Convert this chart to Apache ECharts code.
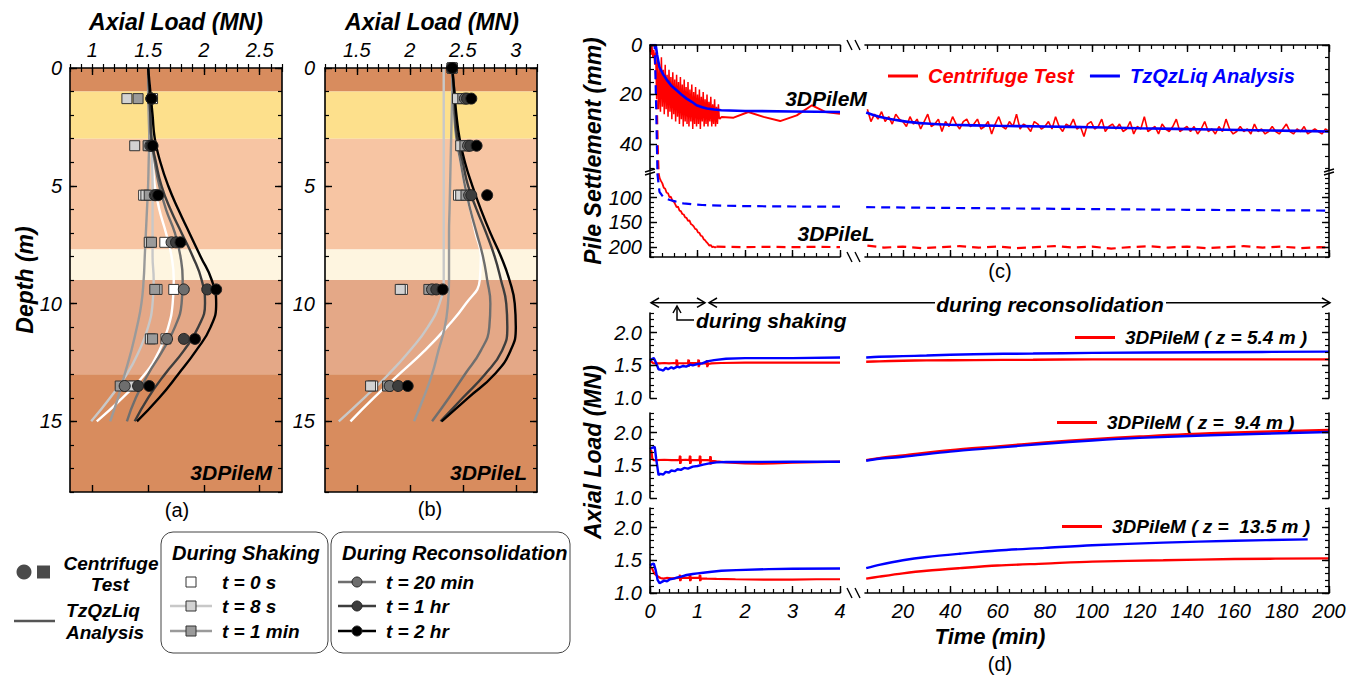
<!DOCTYPE html>
<html><head><meta charset="utf-8">
<script src="https://cdn.jsdelivr.net/npm/echarts@6/dist/echarts.min.js"></script>
<style>html,body{margin:0;padding:0;background:#fff}#c{width:1359px;height:683px}</style>
</head><body><div id="c"></div>
<script>
// ================= DATA =================
// soil layers (depth, m)
const soilTop = [0, 1, 3, 7.7, 9, 13];
const soilBottom = [1, 3, 7.7, 9, 13, 18];
// analysis curves depth grid
const curveDepth = [0, 1, 2, 3, 4, 5, 6, 7, 8, 9, 10, 11, 12, 13, 14, 15];
// panel (a) 3DPileM analysis curves (axial load, MN)
const aCurve_t0  = [1.50,1.51,1.51,1.52,1.54,1.56,1.60,1.66,1.71,1.73,1.72,1.68,1.60,1.47,1.27,1.04];
const aCurve_t8  = [1.50,1.51,1.52,1.53,1.535,1.54,1.54,1.54,1.54,1.55,1.54,1.50,1.42,1.31,1.16,0.99];
const aCurve_t1m = [1.50,1.50,1.505,1.51,1.505,1.50,1.49,1.48,1.47,1.46,1.44,1.40,1.35,1.29,1.23,1.16];
const aCurve_t20 = [1.50,1.51,1.52,1.53,1.56,1.60,1.66,1.74,1.79,1.81,1.80,1.74,1.63,1.50,1.39,1.31];
const aCurve_t1h = [1.50,1.51,1.52,1.53,1.57,1.62,1.70,1.80,1.90,1.98,2.01,1.95,1.82,1.65,1.50,1.38];
const aCurve_t2h = [1.50,1.52,1.54,1.56,1.61,1.68,1.77,1.87,1.97,2.07,2.11,2.06,1.93,1.77,1.60,1.40];
// panel (a) centrifuge points
const aMarkDepth = [1.3, 3.3, 5.4, 7.4, 9.4, 11.5, 13.5];
const aMark_t0  = [1.54,1.52,1.46,1.65,1.73,1.66,1.37];
const aMark_t8  = [1.31,1.38,1.48,1.51,1.58,1.52,1.34];
const aMark_t1m = [1.41,1.50,1.51,1.53,1.56,1.54,1.25];
const aMark_t20 = [1.53,1.52,1.56,1.71,1.82,1.67,1.29];
const aMark_t1h = [1.53,1.53,1.57,1.75,2.03,1.82,1.41];
const aMark_t2h = [1.53,1.54,1.59,1.79,2.11,1.92,1.51];
// panel (b) 3DPileL analysis curves
const bCurve_t0  = [2.40,2.41,2.42,2.44,2.48,2.52,2.57,2.62,2.67,2.66,2.53,2.35,2.14,1.90,1.66,1.44];
const bCurve_t8  = [2.32,2.32,2.32,2.32,2.32,2.32,2.32,2.32,2.32,2.32,2.28,2.17,2.00,1.80,1.57,1.33];
const bCurve_t1m = [2.40,2.40,2.395,2.39,2.385,2.38,2.375,2.37,2.37,2.37,2.36,2.33,2.27,2.21,2.13,2.04];
const bCurve_t20 = [2.40,2.41,2.42,2.44,2.48,2.52,2.57,2.63,2.69,2.73,2.76,2.75,2.67,2.52,2.37,2.21];
const bCurve_t1h = [2.40,2.42,2.43,2.45,2.50,2.55,2.63,2.72,2.80,2.86,2.91,2.92,2.87,2.71,2.50,2.29];
const bCurve_t2h = [2.40,2.42,2.44,2.47,2.52,2.59,2.67,2.76,2.86,2.94,2.99,3.00,2.95,2.80,2.55,2.30];
// panel (b) centrifuge points
const bMarkDepth = [0, 1.3, 3.3, 5.4, 9.4, 13.5];
const bMark_t0  = [2.40,2.47,2.49,2.46,1.93,1.65];
const bMark_t8  = [2.40,2.45,2.48,2.48,1.91,1.63];
const bMark_t1m = [2.40,2.50,2.52,2.53,2.18,1.79];
const bMark_t20 = [2.40,2.52,2.55,2.56,2.21,1.81];
const bMark_t1h = [2.40,2.54,2.57,2.58,2.25,1.89];
const bMark_t2h = [2.40,2.58,2.63,2.73,2.31,1.98];

// panel (c) settlement (mm) vs time (min)
const pileMRedShakeStart = 0, pileMRedShakeStep = 0.02;
const pileMRedShake = [1,4,0,5,2,8,3,22,6,26, 9,27,5,25,10,28,8,26,12,29, 10,27,13,30,11,28,14,31,12,29,
  15,32,13,30,16,33,14,31,17,32, 15,33,18,31,16,34,19,32,17,33, 20,32,18,34,21,31,19,33,22,32,
  20,33,23,31,21,33,24,32,22,33, 25,32,24,30];
const pileMRedPostT = [1.46,1.51,1.76,2.07,2.39,2.74,3.09,3.41,3.69,4.0];
const pileMRedPostV = [30,29.1,29.4,27.1,29.1,30.8,28.5,24.4,27.1,27.8];
const pileMBlueT = [0,0.12,0.15,0.2,0.28,0.35,0.45,0.56,0.66,0.77,0.88,0.98,1.1,1.2,1.35,1.5,2,3,4];
const pileMBlueV = [0,0,4,9,12,14,16.5,18.3,20,21.7,23,24.4,25.2,25.7,26.1,26.4,26.7,26.9,27.1];
const pileMRedRightStart = 5, pileMRedRightStep = 1.5;
const pileMRedRight = [26,31,28,30,27,31,29,32,28,30,31,
  33,29,32,30,34,31,28,33,32,30,35,31,33,29,32,34,31,30,33,32,
  30,34,33,31,36,32,29,33,34,31,33,28,34,32,33,35,31,32,34,33,
  31,34,29,33,35,32,33,30,34,33,37,32,31,34,33,30,35,33,32,34,
  32,35,34,31,36,33,34,29,35,34,33,36,32,34,35,33,30,35,34,33,
  35,33,36,34,31,35,34,36,33,35,30,34,36,35,33,35,34,36,32,35,
  34,36,35,33,35,36,34,32,35,36,34,35,33,36,35,34,35,36,34,35];
const pileMBlueRightT = [4.5,10,20,30,40,60,80,100,120,150,175,200];
const pileMBlueRightV = [27.3,29.0,30.8,31.8,32.3,32.7,33.0,33.3,33.7,34.2,34.6,35.0];
const pileLRedDropT = [0,0.1,0.14,0.17,0.2];
const pileLRedDropV = [0,0,20,45,60];
const pileLRedShakeStart = 0.2, pileLRedShakeStep = 0.03;
const pileLRedShake = [60,66,71,80,82,90,91,99,98,106,108,113,119,118,126,127,133,134,140,141,
  147,146,153,155,158,163,164,170,171,177,178,184,186,190,193,197,196,200,199,201,199];
const pileLRedPostT = [1.4,2,2.5,3,3.5,4];
const pileLRedPostV = [199,200,199.5,200,199.5,200];
const pileLRedRightT = [5,12,20,28,36,44,52,60,68,76,84,92,100,108,116,124,132,140,148,156,164,172,180,188,196,200];
const pileLRedRightV = [197,201,199,202,200,198,201,199,202,200,198,201,199,203,200,198,201,199,202,200,198,201,199,202,200,201];
const pileLBlueT = [0,0.1,0.13,0.16,0.2,0.25,0.3,0.42,0.55,0.7,0.9,1.1,1.5,2,3,4];
const pileLBlueV = [0,0,25,55,88,95,100,104.7,108,111.4,113.5,114.8,116,117,117.8,118.2];
const pileLBlueRightT = [4.5,30,60,100,140,170,200];
const pileLBlueRightV = [119.2,120.3,121.5,123,124.5,125.3,126];

// panel (d) axial load (MN) vs time (min)
const d1RedT = [0,0.03,0.06,0.1,0.2,0.3,0.4,0.5,0.55,0.56,0.565,0.57,0.575,0.585,0.7,0.8,0.81,0.815,0.82,0.825,0.835,0.95,1.01,1.02,1.025,1.03,1.035,1.045,1.15,1.19,1.2,1.205,1.21,1.215,1.225,1.3,1.5,2,2.5,3,3.5,4];
const d1RedV = [1.555,1.56,1.535,1.53,1.53,1.535,1.53,1.535,1.53,1.59,1.48,1.58,1.49,1.535,1.53,1.535,1.59,1.48,1.58,1.49,1.535,1.535,1.53,1.59,1.47,1.58,1.49,1.53,1.53,1.525,1.58,1.47,1.57,1.49,1.52,1.53,1.535,1.54,1.54,1.54,1.54,1.54];
const d1BlueT = [0,0.05,0.08,0.12,0.18,0.24,0.28,0.33,0.38,0.45,0.5,0.57,0.62,0.7,0.76,0.85,0.9,1.0,1.1,1.2,1.35,1.6,2.0,3.0,4.0];
const d1BlueV = [1.57,1.60,1.61,1.55,1.44,1.43,1.42,1.46,1.44,1.47,1.45,1.48,1.47,1.49,1.48,1.51,1.50,1.52,1.53,1.56,1.58,1.60,1.61,1.61,1.62];
const d1RightT = [4.5,10,20,30,50,75,100,150,200];
const d1RedRightV = [1.555,1.56,1.57,1.575,1.58,1.585,1.59,1.59,1.59];
const d1BlueRightV = [1.62,1.63,1.64,1.65,1.67,1.68,1.69,1.70,1.71];

const d2RedT = [0,0.03,0.05,0.08,0.15,0.3,0.45,0.6,0.62,0.63,0.635,0.64,0.645,0.655,0.75,0.83,0.84,0.845,0.85,0.855,0.865,0.98,1.04,1.05,1.055,1.06,1.065,1.075,1.2,1.26,1.27,1.275,1.28,1.285,1.295,1.4,1.6,1.8,2.0,2.3,2.6,3.0,3.5,4.0];
const d2RedV = [1.73,1.72,1.60,1.58,1.58,1.585,1.58,1.58,1.585,1.65,1.52,1.64,1.53,1.58,1.585,1.58,1.65,1.52,1.64,1.53,1.58,1.58,1.58,1.65,1.52,1.64,1.53,1.58,1.58,1.575,1.64,1.51,1.63,1.52,1.57,1.56,1.545,1.535,1.53,1.525,1.53,1.54,1.55,1.555];
const d2BlueT = [0,0.05,0.1,0.13,0.18,0.22,0.28,0.33,0.4,0.45,0.52,0.58,0.65,0.72,0.8,0.9,1.0,1.12,1.25,1.4,1.6,2.0,3.0,4.0];
const d2BlueV = [1.75,1.77,1.78,1.60,1.35,1.37,1.36,1.40,1.39,1.42,1.41,1.44,1.43,1.46,1.45,1.48,1.49,1.51,1.53,1.545,1.55,1.55,1.555,1.555];
const d2RightT = [4.5,10,20,40,60,80,100,120,150,200];
const d2RedRightV = [1.58,1.61,1.65,1.73,1.79,1.85,1.90,1.94,1.99,2.04];
const d2BlueRightV = [1.57,1.60,1.63,1.71,1.77,1.83,1.88,1.92,1.96,2.01];

const d3RedT = [0,0.04,0.09,0.15,0.22,0.28,0.35,0.45,0.6,0.62,0.63,0.635,0.64,0.645,0.655,0.75,0.83,0.84,0.845,0.85,0.855,0.865,0.98,1.04,1.05,1.055,1.06,1.065,1.075,1.2,1.4,1.8,2.5,3.0,3.5,4.0];
const d3RedV = [1.40,1.38,1.30,1.26,1.23,1.22,1.23,1.225,1.23,1.23,1.28,1.18,1.27,1.19,1.23,1.23,1.23,1.28,1.18,1.27,1.19,1.23,1.23,1.23,1.28,1.18,1.27,1.19,1.225,1.22,1.215,1.21,1.205,1.205,1.21,1.21];
const d3BlueT = [0,0.04,0.08,0.12,0.16,0.2,0.25,0.3,0.36,0.42,0.5,0.58,0.66,0.77,0.9,1.0,1.12,1.3,1.5,1.82,2.5,3.0,4.0];
const d3BlueV = [1.42,1.44,1.45,1.35,1.20,1.15,1.17,1.19,1.18,1.21,1.22,1.24,1.25,1.275,1.29,1.30,1.31,1.325,1.34,1.35,1.365,1.37,1.375];
const d3RedRightT = [4.5,10,20,30,44,60,80,100,130,160,200];
const d3RedRightV = [1.22,1.25,1.30,1.34,1.38,1.42,1.45,1.48,1.50,1.52,1.53];
const d3BlueRightT = [4.5,10,20,30,44,60,80,100,130,160,191];
const d3BlueRightV = [1.38,1.43,1.50,1.55,1.60,1.65,1.69,1.73,1.77,1.80,1.82];

const dNames = ['3DPileM ( z = 5.4 m )', '3DPileM ( z =  9.4 m )', '3DPileM ( z =  13.5 m )'];

// ================= STYLE =================
const F = '"Liberation Sans", Arial, Helvetica, sans-serif';
const soilColors = ['#d88c5e', '#fde08c', '#f7c5a3', '#fef5e0', '#e4a887', '#d88c5e'];
const tStyle = {
  t0:  {line:'#ffffff', fill:'#ffffff', symbol:'rect'},
  t8:  {line:'#c8c8c8', fill:'#d2d2d2', symbol:'rect'},
  t1m: {line:'#9a9a9a', fill:'#9a9a9a', symbol:'rect'},
  t20: {line:'#6e6e6e', fill:'#6e6e6e', symbol:'circle'},
  t1h: {line:'#3d3d3d', fill:'#3d3d3d', symbol:'circle'},
  t2h: {line:'#000000', fill:'#000000', symbol:'circle'}
};
const RED = '#ff0000', BLUE = '#0000ff';

// ================= HELPERS =================
function ticks(a, b, s) { const r = []; const n = Math.round((b - a) / s); for (let i = 0; i <= n; i++) r.push(+(a + i * s).toFixed(4)); return r; }
function zip(ts, vs) { return vs.map((v, i) => [ts[i], v]); }
function stepped(t0, dt, vs) { return vs.map((v, i) => [+(t0 + i * dt).toFixed(4), v]); }
function curve(depths, loads) { return loads.map((v, i) => [v, depths[i]]); }

const xAxes = [], yAxes = [];
function axis(list, o) {
  const idx = list.length;
  const common = {type:'value', gridIndex:o.grid, position:o.pos, min:o.min, max:o.max, inverse:!!o.inverse,
    splitLine:{show:false}, silent:true, z:5, axisPointer:{show:false}};
  list.push(Object.assign({}, common, {
    axisLine:{show:o.line !== false, onZero:false, lineStyle:{color:'#000', width:1.6}},
    axisTick:{show:!!o.major, inside:true, length:7, customValues:o.major || [], lineStyle:{color:'#000', width:1.4}},
    axisLabel:{show:!!o.labels, customValues:o.labels || [], formatter:o.fmt, margin:o.margin == null ? 8 : o.margin,
      color:'#000', fontFamily:F, fontStyle:'italic', fontSize:20}
  }));
  if (o.minor) list.push(Object.assign({}, common, {
    axisLine:{show:false}, axisLabel:{show:false},
    axisTick:{show:true, inside:true, length:4, customValues:o.minor, lineStyle:{color:'#000', width:1.2}}
  }));
  return idx;
}

const grids = [
  {left:70,  top:68,  width:212, height:424},
  {left:325, top:68,  width:212, height:424},
  {left:650, top:45,  width:190, height:126},
  {left:865, top:45,  width:464, height:126},
  {left:650, top:173, width:190, height:84},
  {left:865, top:173, width:464, height:84},
  {left:650, top:313, width:190, height:85},
  {left:865, top:313, width:464, height:85},
  {left:650, top:413, width:190, height:85},
  {left:865, top:413, width:464, height:85},
  {left:650, top:508, width:190, height:85},
  {left:865, top:508, width:464, height:85}
].map(g => Object.assign({outerBoundsMode:'none', containLabel:false, show:false}, g));

// panel a
const xa = axis(xAxes, {grid:0, pos:'top', min:0.8, max:2.7, labels:[1,1.5,2,2.5], major:[1,1.5,2,2.5], minor:ticks(0.8,2.7,0.1)});
axis(xAxes, {grid:0, pos:'bottom', min:0.8, max:2.7, major:[1,1.5,2,2.5], minor:ticks(0.8,2.7,0.1)});
const ya = axis(yAxes, {grid:0, pos:'left', min:0, max:18, inverse:true, labels:[0,5,10,15], major:[0,5,10,15], minor:ticks(0,18,1)});
axis(yAxes, {grid:0, pos:'right', min:0, max:18, inverse:true, major:[0,5,10,15], minor:ticks(0,18,1)});
// panel b
const xb = axis(xAxes, {grid:1, pos:'top', min:1.2, max:3.2, labels:[1.5,2,2.5,3], major:[1.5,2,2.5,3], minor:ticks(1.2,3.2,0.1)});
axis(xAxes, {grid:1, pos:'bottom', min:1.2, max:3.2, major:[1.5,2,2.5,3], minor:ticks(1.2,3.2,0.1)});
const yb = axis(yAxes, {grid:1, pos:'left', min:0, max:18, inverse:true, labels:[0,5,10,15], major:[0,5,10,15], minor:ticks(0,18,1), margin:10});
axis(yAxes, {grid:1, pos:'right', min:0, max:18, inverse:true, major:[0,5,10,15], minor:ticks(0,18,1)});
// panel c
const xc1 = axis(xAxes, {grid:2, pos:'top', min:0, max:4, major:ticks(0,4,1), minor:ticks(0,4,0.25)});
const yc1 = axis(yAxes, {grid:2, pos:'left', min:0, max:51, inverse:true, labels:[0,20,40], major:[0,20,40], minor:ticks(0,50,5)});
const xc2 = axis(xAxes, {grid:3, pos:'top', min:4, max:200, major:ticks(20,200,20), minor:ticks(5,200,5)});
const yc2 = axis(yAxes, {grid:3, pos:'right', min:0, max:51, inverse:true, major:[0,20,40], minor:ticks(0,50,5)});
const xc3 = axis(xAxes, {grid:4, pos:'bottom', min:0, max:4, major:ticks(0,4,1), minor:ticks(0,4,0.25)});
const yc3 = axis(yAxes, {grid:4, pos:'left', min:50, max:220, inverse:true, labels:[100,150,200], major:[100,150,200], minor:ticks(60,220,10)});
const xc4 = axis(xAxes, {grid:5, pos:'bottom', min:4, max:200, major:ticks(20,200,20), minor:ticks(5,200,5)});
const yc4 = axis(yAxes, {grid:5, pos:'right', min:50, max:220, inverse:true, major:[100,150,200], minor:ticks(60,220,10)});
// panel d
const fmt1 = v => Number(v).toFixed(1);
const dAx = [];
for (let k = 0; k < 3; k++) {
  const gL = 6 + 2 * k, gR = 7 + 2 * k, last = k === 2;
  const xl = axis(xAxes, last ? {grid:gL, pos:'bottom', min:0, max:4, labels:[0,1,2,3,4], major:ticks(0,4,1), minor:ticks(0,4,0.2)}
                              : {grid:gL, pos:'bottom', min:0, max:4, line:false});
  const yl = axis(yAxes, {grid:gL, pos:'left', min:1, max:2.3, labels:[1,1.5,2], fmt:fmt1, major:[1,1.5,2], minor:ticks(1,2.3,0.1)});
  const xr = axis(xAxes, last ? {grid:gR, pos:'bottom', min:4, max:200, labels:ticks(20,200,20), major:ticks(20,200,20), minor:ticks(5,200,5)}
                              : {grid:gR, pos:'bottom', min:4, max:200, line:false});
  const yr = axis(yAxes, {grid:gR, pos:'right', min:1, max:2.3, major:[1,1.5,2], minor:ticks(1,2.3,0.1)});
  dAx.push({xl, yl, xr, yr});
}

// ================= SERIES =================
const series = [];
function ln(name, xi, yi, data, color, width, extra) {
  return Object.assign({type:'line', name, xAxisIndex:xi, yAxisIndex:yi, data, symbol:'none', showSymbol:false,
    lineStyle:{color, width}, itemStyle:{color}, z:3, silent:true, clip:true, animation:false}, extra || {});
}
function bandSeries(xi, yi) {
  return {type:'line', name:'soil', xAxisIndex:xi, yAxisIndex:yi, data:[], z:1, silent:true, symbol:'none',
    markArea:{silent:true, data: soilTop.map((t, i) => [{yAxis:t, itemStyle:{color:soilColors[i], borderWidth:0, opacity:1}}, {yAxis:soilBottom[i]}])}};
}
// ---- (c) first so legend picks the right styles
series.push(ln('Centrifuge Test', xc1, yc1, stepped(pileMRedShakeStart, pileMRedShakeStep, pileMRedShake), RED, 1.5));
series.push(ln('TzQzLiq Analysis', xc1, yc1, zip(pileMBlueT, pileMBlueV), BLUE, 2.6, {z:4}));
series.push(ln('Centrifuge Test', xc1, yc1, zip(pileMRedPostT, pileMRedPostV), RED, 2));
series.push(ln('Centrifuge Test', xc1, yc1, zip(pileLRedDropT, pileLRedDropV), RED, 2, {lineStyle:{color:RED, width:2, type:[9,6]}}));
series.push(ln('TzQzLiq Analysis', xc1, yc1, zip(pileLBlueT, pileLBlueV), BLUE, 2, {z:4, lineStyle:{color:BLUE, width:2.2, type:[9,6]}}));
series.push(ln('Centrifuge Test', xc2, yc2, stepped(pileMRedRightStart, pileMRedRightStep, pileMRedRight), RED, 1.6));
series.push(ln('TzQzLiq Analysis', xc2, yc2, zip(pileMBlueRightT, pileMBlueRightV), BLUE, 2.6, {z:4, smooth:0.3}));
series.push(ln('Centrifuge Test', xc3, yc3, zip(pileLRedDropT, pileLRedDropV), RED, 2, {lineStyle:{color:RED, width:2, type:[9,6]}}));
series.push(ln('Centrifuge Test', xc3, yc3, stepped(pileLRedShakeStart, pileLRedShakeStep, pileLRedShake), RED, 1.8));
series.push(ln('Centrifuge Test', xc3, yc3, zip(pileLRedPostT, pileLRedPostV), RED, 2.2, {lineStyle:{color:RED, width:2.2, type:[9,6]}}));
series.push(ln('TzQzLiq Analysis', xc3, yc3, zip(pileLBlueT, pileLBlueV), BLUE, 2.2, {z:4, lineStyle:{color:BLUE, width:2.2, type:[9,6]}}));
series.push(ln('Centrifuge Test', xc4, yc4, zip(pileLRedRightT, pileLRedRightV), RED, 2.2, {lineStyle:{color:RED, width:2.2, type:[9,6]}}));
series.push(ln('TzQzLiq Analysis', xc4, yc4, zip(pileLBlueRightT, pileLBlueRightV), BLUE, 2.2, {z:4, lineStyle:{color:BLUE, width:2.2, type:[9,6]}}));
// ---- (d)
const dLeft = [[d1RedT,d1RedV,d1BlueT,d1BlueV],[d2RedT,d2RedV,d2BlueT,d2BlueV],[d3RedT,d3RedV,d3BlueT,d3BlueV]];
const dRight = [[d1RightT,d1RedRightV,d1RightT,d1BlueRightV],[d2RightT,d2RedRightV,d2RightT,d2BlueRightV],[d3RedRightT,d3RedRightV,d3BlueRightT,d3BlueRightV]];
for (let k = 0; k < 3; k++) {
  const a = dAx[k], L = dLeft[k], R = dRight[k];
  series.push(ln(dNames[k], a.xl, a.yl, zip(L[0], L[1]), RED, 2.2));
  series.push(ln('TzQzLiq Analysis', a.xl, a.yl, zip(L[2], L[3]), BLUE, 2.4, {z:4}));
  series.push(ln(dNames[k], a.xr, a.yr, zip(R[0], R[1]), RED, 2.4, {smooth:0.3}));
  series.push(ln('TzQzLiq Analysis', a.xr, a.yr, zip(R[2], R[3]), BLUE, 2.4, {z:4, smooth:0.3}));
}
// ---- (a),(b)
series.push(bandSeries(xa, ya), bandSeries(xb, yb));
const keys = ['t0','t8','t1m','t20','t1h','t2h'];
const aCurves = [aCurve_t0, aCurve_t8, aCurve_t1m, aCurve_t20, aCurve_t1h, aCurve_t2h];
const bCurves = [bCurve_t0, bCurve_t8, bCurve_t1m, bCurve_t20, bCurve_t1h, bCurve_t2h];
const aMarks = [aMark_t0, aMark_t8, aMark_t1m, aMark_t20, aMark_t1h, aMark_t2h];
const bMarks = [bMark_t0, bMark_t8, bMark_t1m, bMark_t20, bMark_t1h, bMark_t2h];
keys.forEach((k, i) => {
  const s = tStyle[k];
  series.push(ln('a_' + k, xa, ya, curve(curveDepth, aCurves[i]), s.line, 2.4, {smooth:0.5, z:2}));
  series.push(ln('b_' + k, xb, yb, curve(curveDepth, bCurves[i]), s.line, 2.4, {smooth:0.5, z:2}));
});
keys.forEach((k, i) => {
  const s = tStyle[k];
  const sc = (name, xi, yi, data) => ({type:'scatter', name, xAxisIndex:xi, yAxisIndex:yi, data, symbol:s.symbol,
    symbolSize: s.symbol === 'rect' ? 10 : 11, silent:true, z:4, animation:false,
    itemStyle:{color:s.fill, borderColor: s.symbol === 'rect' ? '#333' : '#222', borderWidth:1, opacity:1}});
  series.push(sc('am_' + k, xa, ya, curve(aMarkDepth, aMarks[i])));
  series.push(sc('bm_' + k, xb, yb, curve(bMarkDepth, bMarks[i])));
});

// ================= GRAPHICS (titles, annotations, legend) =================
const G = [];
function txt(text, x, y, o) {
  o = o || {};
  G.push({type:'text', x, y, rotation:o.rot || 0, silent:true, z:100,
    style:{text, fill:o.color || '#000', fontFamily:F, fontSize:o.size || 20,
      fontWeight:o.bold === false ? 'normal' : 'bold', fontStyle:o.italic === false ? 'normal' : 'italic',
      textAlign:o.align || 'center', textVerticalAlign:'middle', verticalAlign:'middle'}});
}
function seg(x1, y1, x2, y2, color, w) {
  G.push({type:'line', silent:true, z:100, shape:{x1, y1, x2, y2}, style:{stroke:color || '#000', lineWidth:w || 1.5}});
}
function poly(points, color, w) {
  G.push({type:'polyline', silent:true, z:100, shape:{points}, style:{stroke:color || '#000', lineWidth:w || 1.5, fill:null}});
}
// titles
txt('Axial Load (MN)', 176, 22, {size:23});
txt('Axial Load (MN)', 432, 22, {size:23});
txt('Depth (m)', 25, 280, {size:23, rot:Math.PI / 2});
txt('3DPileM', 272, 472, {size:21, align:'right'});
txt('3DPileL', 527, 472, {size:21, align:'right'});
txt('(a)', 177, 510, {size:20, bold:false, italic:false});
txt('(b)', 430, 509, {size:20, bold:false, italic:false});
txt('Pile Settlement (mm)', 593, 151, {size:23, rot:Math.PI / 2});
txt('3DPileM', 826, 98, {size:21});
txt('3DPileL', 836, 233, {size:21});
txt('(c)', 1000, 271, {size:20, bold:false, italic:false});
txt('Axial Load (MN)', 593, 452, {size:23, rot:Math.PI / 2});
txt('Time (min)', 990, 636, {size:22});
txt('(d)', 1000, 664, {size:20, bold:false, italic:false});
// (d) annotations
seg(651, 302.7, 705, 302.7);
poly([[659, 298], [651, 302.7], [659, 307.4]]);
poly([[697, 298], [705, 302.7], [697, 307.4]]);
seg(709, 302.7, 935, 302.7);
poly([[717, 298], [709, 302.7], [717, 307.4]]);
seg(1166, 302.7, 1330, 302.7);
poly([[1322, 298], [1330, 302.7], [1322, 307.4]]);
txt('during reconsolidation', 1050, 304, {size:21});
poly([[677, 307], [677, 320], [694, 320]]);
poly([[673, 313], [677, 306], [681, 313]]);
txt('during shaking', 696, 320, {size:21, align:'left'});
// axis breaks
[[853, 45], [853, 257], [853, 593]].forEach(([x, y]) => {
  seg(x - 6, y - 5, x - 1, y + 5, '#000', 1.4);
  seg(x + 2, y - 5, x + 7, y + 5, '#000', 1.4);
});
[[650, 172], [1329, 172]].forEach(([x, y]) => {
  seg(x - 5, y, x + 5, y - 3, '#000', 1.4);
  seg(x - 5, y + 3, x + 5, y, '#000', 1.4);
});
// bottom-left legend
G.push({type:'circle', silent:true, z:100, shape:{cx:24, cy:572, r:7.5}, style:{fill:'#4a4a4a'}});
G.push({type:'rect', silent:true, z:100, shape:{x:37, y:565.5, width:13, height:13}, style:{fill:'#4a4a4a'}});
txt('Centrifuge', 111, 563, {size:19});
txt('Test', 110, 584, {size:19});
seg(14, 621, 55, 621, '#555', 2.5);
txt('TzQzLiq', 103, 610, {size:19});
txt('Analysis', 105, 632, {size:19});
G.push({type:'rect', silent:true, z:100, shape:{x:161, y:532, width:167, height:121, r:12}, style:{fill:null, stroke:'#444', lineWidth:1}});
G.push({type:'rect', silent:true, z:100, shape:{x:331, y:532, width:239, height:121, r:12}, style:{fill:null, stroke:'#444', lineWidth:1}});
txt('During Shaking', 172, 553, {size:20, align:'left'});
txt('During Reconsolidation', 342, 553, {size:20, align:'left'});
const rowsY = [582, 606, 631];
const shakeRows = [['t0', 't = 0 s'], ['t8', 't = 8 s'], ['t1m', 't = 1 min']];
shakeRows.forEach(([k, label], i) => {
  const y = rowsY[i];
  if (k !== 't0') seg(170, y, 212, y, tStyle[k].line, 2.5);
  G.push({type:'rect', silent:true, z:101, shape:{x:186, y:y - 5, width:10, height:10}, style:{fill:tStyle[k].fill, stroke:'#333', lineWidth:1}});
  txt(label, 222, y, {size:19, align:'left'});
});
const reconRows = [['t20', 't = 20 min'], ['t1h', 't = 1 hr'], ['t2h', 't = 2 hr']];
reconRows.forEach(([k, label], i) => {
  const y = rowsY[i];
  seg(338, y, 376, y, tStyle[k].line, 2.5);
  G.push({type:'circle', silent:true, z:101, shape:{cx:357, cy:y, r:5}, style:{fill:tStyle[k].fill, stroke:'#222', lineWidth:1}});
  txt(label, 386, y, {size:19, align:'left'});
});

// ================= LEGENDS =================
const legText = {fontFamily:F, fontStyle:'italic', fontWeight:'bold', color:'#000', padding:[0, 0, 0, 5]};
const legCommon = {padding:0, icon:'rect', itemHeight:3, selectedMode:false};
const legend = [
  Object.assign({left:888, top:66, itemWidth:30, itemGap:16, textStyle:Object.assign({}, legText, {fontSize:20}),
    data:[{name:'Centrifuge Test', textStyle:{color:RED}}, {name:'TzQzLiq Analysis', textStyle:{color:BLUE}}]}, legCommon),
  Object.assign({left:1075, top:328, itemWidth:40, textStyle:Object.assign({}, legText, {fontSize:19}), data:[dNames[0]]}, legCommon),
  Object.assign({left:1057, top:413, itemWidth:40, textStyle:Object.assign({}, legText, {fontSize:19}), data:[dNames[1]]}, legCommon),
  Object.assign({left:1062, top:517, itemWidth:40, textStyle:Object.assign({}, legText, {fontSize:19}), data:[dNames[2]]}, legCommon)
];

const chart = echarts.init(document.getElementById('c'), null, {renderer:'svg', width:1359, height:683});
chart.setOption({
  animation:false,
  backgroundColor:'#ffffff',
  textStyle:{fontFamily:F},
  grid:grids,
  xAxis:xAxes,
  yAxis:yAxes,
  legend,
  series,
  graphic:{elements:G}
});
</script></body></html>
